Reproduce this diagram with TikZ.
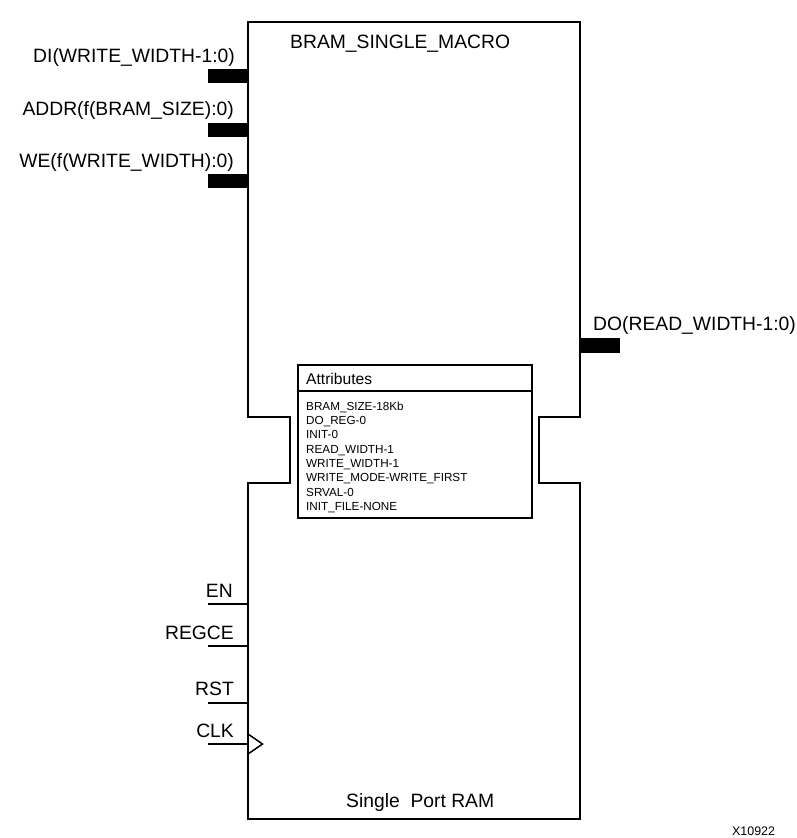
\documentclass[tikz,border=0pt]{standalone}
\usepackage{fontspec}
\setmainfont{Liberation Sans}
\begin{document}
\begin{tikzpicture}[x=1pt,y=-1pt,
  lbl/.style={font=\fontsize{19.3}{22}\selectfont, inner sep=0pt},
  attr/.style={font=\fontsize{11.7}{14}\selectfont, inner sep=0pt, anchor=base west},
  bus/.style={fill=black, draw=none},
  pin/.style={line width=1.5pt},
  outline/.style={line width=2.5pt, line join=miter},
  abox/.style={line width=2pt, line join=miter}]
\useasboundingbox (0,0) rectangle (797,838);
\fill[white] (0,0) rectangle (797,838);
% main block outline with notches
\draw[outline] (248,22) -- (580,22) -- (580,417) -- (539,417) -- (539,483) -- (580,483)
  -- (580,819) -- (248,819) -- (248,483) -- (290,483) -- (290,417) -- (248,417) -- cycle;
\node[lbl, anchor=base west] (title) at (290,48.6) {BRAM\_SINGLE\_MACRO};
\node[lbl, anchor=base west] (foot) at (346,807.6) {Single\ \ Port RAM};
% attributes box
\draw[abox] (298,365) rectangle (532,518);
\draw[abox] (298,391) -- (532,391);
\node[font=\fontsize{15.6}{18}\selectfont, inner sep=0pt, anchor=base west] (attrh) at (306,384.9) {Attributes};
\node[attr] (a1) at (306,410.2) {BRAM\_SIZE-18Kb};
\node[attr] (a2) at (306,424.5) {DO\_REG-0};
\node[attr] (a3) at (306,438.8) {INIT-0};
\node[attr] (a4) at (306,453.1) {READ\_WIDTH-1};
\node[attr] (a5) at (306,467.4) {WRITE\_WIDTH-1};
\node[attr] (a6) at (306,481.7) {WRITE\_MODE-WRITE\_FIRST};
\node[attr] (a7) at (306,496.0) {SRVAL-0};
\node[attr] (a8) at (306,510.3) {INIT\_FILE-NONE};
% input buses
\node[lbl, anchor=base east] (di) at (235,62) {DI(WRITE\_WIDTH-1:0)};
\node[lbl, anchor=base east] (addr) at (234,115) {ADDR(f(BRAM\_SIZE):0)};
\node[lbl, anchor=base east] (we) at (234,167) {WE(f(WRITE\_WIDTH):0)};
\fill[bus] (208,69) rectangle (248,83);
\fill[bus] (208,123) rectangle (248,137);
\fill[bus] (208,174) rectangle (248,188);
% output bus
\node[lbl, anchor=base west] (do) at (593,330) {DO(READ\_WIDTH-1:0)};
\fill[bus] (580,338) rectangle (620,353);
% single pins
\coordinate (enA) at (208,604); \coordinate (enB) at (248,604);
\coordinate (rgA) at (208,646); \coordinate (rgB) at (248,646);
\coordinate (rsA) at (208,703); \coordinate (rsB) at (248,703);
\coordinate (ckA) at (208,744); \coordinate (ckB) at (248,744);
\node[lbl, anchor=base east] (en) at (233,597.6) {EN};
\node[lbl, anchor=base east] (regce) at (234,639) {REGCE};
\node[lbl, anchor=base east] (rst) at (234,695) {RST};
\node[lbl, anchor=base east] (clk) at (234,737) {CLK};
\draw[pin] (enA) -- (enB);
\draw[pin] (rgA) -- (rgB);
\draw[pin] (rsA) -- (rsB);
\draw[pin] (ckA) -- (ckB);
\draw[pin, line join=miter] (248,734) -- (262.5,744) -- (248,754);
\node[font=\fontsize{12.4}{14}\selectfont, inner sep=0pt, anchor=base west] (fig) at (732,835) {X10922};
\end{tikzpicture}
\end{document}
